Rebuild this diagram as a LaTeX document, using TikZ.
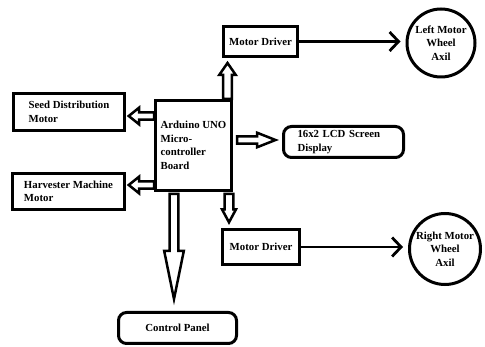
\documentclass[tikz,border=0pt]{standalone}
\usepackage{fontspec}
\setmainfont{Liberation Serif}
\usetikzlibrary{calc,arrows.meta}

% hollow block arrow: from, to, shaft half width, head half width, head length
\newcommand{\hollowarrow}[5]{%
  \draw[hollow] ($(#1)!#3!90:(#2)$) -- ($(#2)!#5!(#1)!#3!-90:(#1)$)
    -- ($(#2)!#5!(#1)!#4!-90:(#1)$) -- (#2)
    -- ($(#2)!#5!(#1)!#4!90:(#1)$) -- ($(#2)!#5!(#1)!#3!90:(#1)$)
    -- ($(#1)!#3!-90:(#2)$) -- cycle;}

\begin{document}
\begin{tikzpicture}[x=1pt,y=-1pt,
  txt/.style={font=\bfseries\fontsize{10.8}{13.5}\selectfont, inner sep=0pt},
  box/.style={txt, draw, line width=3pt},
  wheel/.style={txt, draw, circle, line width=3pt, minimum size=68pt, align=center},
  hollow/.style={draw, fill=white, line width=2.5pt, line join=miter},
  wire/.style={line width=2.8pt, -{Straight Barb[length=9pt,width=19pt]}}]
	\useasboundingbox (0,0) rectangle (485,347);

	% blocks
	\node[box, minimum width=76pt, minimum height=90pt, align=left] (ard) at (193.5,145.5) {Arduino UNO\\Micro-\\controller\\Board};
	\node[box, minimum width=74pt, minimum height=30pt] (md1) at (260.5,41.5) {Motor Driver};
	\node[box, minimum width=77pt, minimum height=35pt] (md2) at (261,247) {Motor Driver};
	\node[box, minimum width=111pt, minimum height=37pt, align=left] (seed) at (69,112) {Seed Distribution\\Motor};
	\node[box, minimum width=112pt, minimum height=36pt, align=left] (harv) at (68.5,191.5) {Harvester Machine\\Motor};
	\node[box, rounded corners=8pt, minimum width=120pt, minimum height=31pt, text width=92pt, align=left] (lcd) at (343.5,142) {16x2 LCD Screen\\Display};
	\node[box, rounded corners=8pt, minimum width=118pt, minimum height=31pt] (cp) at (177.5,328) {Control Panel};
	\node[wheel] (lw) at (441,43) {Left Motor\\Wheel\\Axil};
	\node[wheel, minimum size=71pt] (rw) at (445,249) {Right Motor\\Wheel\\Axil};

	% arrow ends
	\coordinate (up0) at ($(ard.north east)+(-5.5,0)$);
	\coordinate (up1) at ($(up0 |- md1.south)+(0,5)$);
	\coordinate (sd1) at ($(seed.east)+(2.75,4)$);
	\coordinate (sd0) at (ard.west |- sd1);
	\coordinate (hv1) at ($(harv.east)+(2.75,-6.5)$);
	\coordinate (hv0) at (ard.west |- hv1);
	\coordinate (lc0) at ($(ard.east)+(4,-5.5)$);
	\coordinate (lc1) at ($(lc0 -| lcd.west)+(-6.5,0)$);
	\coordinate (dn0) at ($(ard.south east)+(-4,2)$);
	\coordinate (dn1) at ($(dn0 |- md2.north)+(0,-5.7)$);
	\coordinate (cp0) at ($(ard.south)+(-19.5,2)$);
	\coordinate (cp1) at ($(cp0 |- cp.north)+(0,-12)$);

	\hollowarrow{up0}{up1}{4.3pt}{8.3pt}{12pt}
	\hollowarrow{sd0}{sd1}{3.6pt}{8.3pt}{10.3pt}
	\hollowarrow{hv0}{hv1}{3.6pt}{8.3pt}{10.3pt}
	\hollowarrow{lc0}{lc1}{3.6pt}{7.3pt}{18.5pt}
	\hollowarrow{dn0}{dn1}{4.3pt}{7pt}{13pt}
	\hollowarrow{cp0}{cp1}{4.3pt}{9.8pt}{48pt}

	\draw[wire, shorten >=5pt] (md1.east) -- (md1.east -| lw.west);
	\draw[wire, shorten >=5pt] (md2.east) -- (md2.east -| rw.west);
\end{tikzpicture}
\end{document}
